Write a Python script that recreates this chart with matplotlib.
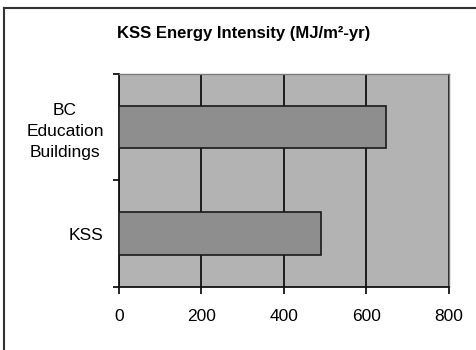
import matplotlib.pyplot as plt
from matplotlib.lines import Line2D

# donnees du graphique
categories = ["KSS", "BC\nEducation\nBuildings"]
values = [490, 648]
xticks = [0, 200, 400, 600, 800]
title = "KSS Energy Intensity (MJ/m\u00b2-yr)"

plt.rcParams['font.family'] = ['Liberation Sans', 'DejaVu Sans']

fig = plt.figure(figsize=(4.76, 3.5), dpi=100)
ax = fig.add_axes([0.25, 0.18, 0.693, 0.609])

# fond gris de la zone de tracé
ax.set_facecolor('#b3b3b3')
ax.barh(range(len(categories)), values, height=0.4, color='#8e8e8e',
        edgecolor='#1a1a1a', linewidth=1.2, zorder=3)

ax.set_xlim(0, 800)
ax.set_ylim(-0.5, len(categories) - 0.5)
ax.set_xticks(xticks)
ax.set_xticklabels([str(v) for v in xticks])
ax.xaxis.grid(True, color='#111111', linewidth=1.3, zorder=1)
ax.set_axisbelow(True)

# ticks de l'axe y aux frontieres, labels au centre
ax.set_yticks([i - 0.5 for i in range(len(categories) + 1)])
ax.set_yticklabels([])
ax.set_yticks(range(len(categories)), minor=True)
ax.set_yticklabels(categories, minor=True, ha='right', multialignment='center',
                   linespacing=1.5)
ax.tick_params(axis='y', which='minor', length=0, pad=11, labelsize=12.5)
ax.tick_params(axis='y', which='major', direction='out', length=4, width=1.2)
ax.tick_params(axis='x', direction='out', length=5, width=1.2, pad=11, labelsize=12.5)

for s in ['left', 'bottom']:
    ax.spines[s].set_color('#111111')
    ax.spines[s].set_linewidth(1.3)
for s in ['top', 'right']:
    ax.spines[s].set_color('#7a7a7a')
    ax.spines[s].set_linewidth(1.0)

fig.text(0.511, 0.905, title, ha='center', va='center', fontsize=12,
         fontweight='bold', fontstretch='condensed')

# cadre du graphique
fig.add_artist(Line2D([0.009, 0.009], [0.0, 0.977], color='#333333', linewidth=1.5))
fig.add_artist(Line2D([0.009, 1.0], [0.977, 0.977], color='#333333', linewidth=1.5))

fig.savefig('out.png', dpi=100)
